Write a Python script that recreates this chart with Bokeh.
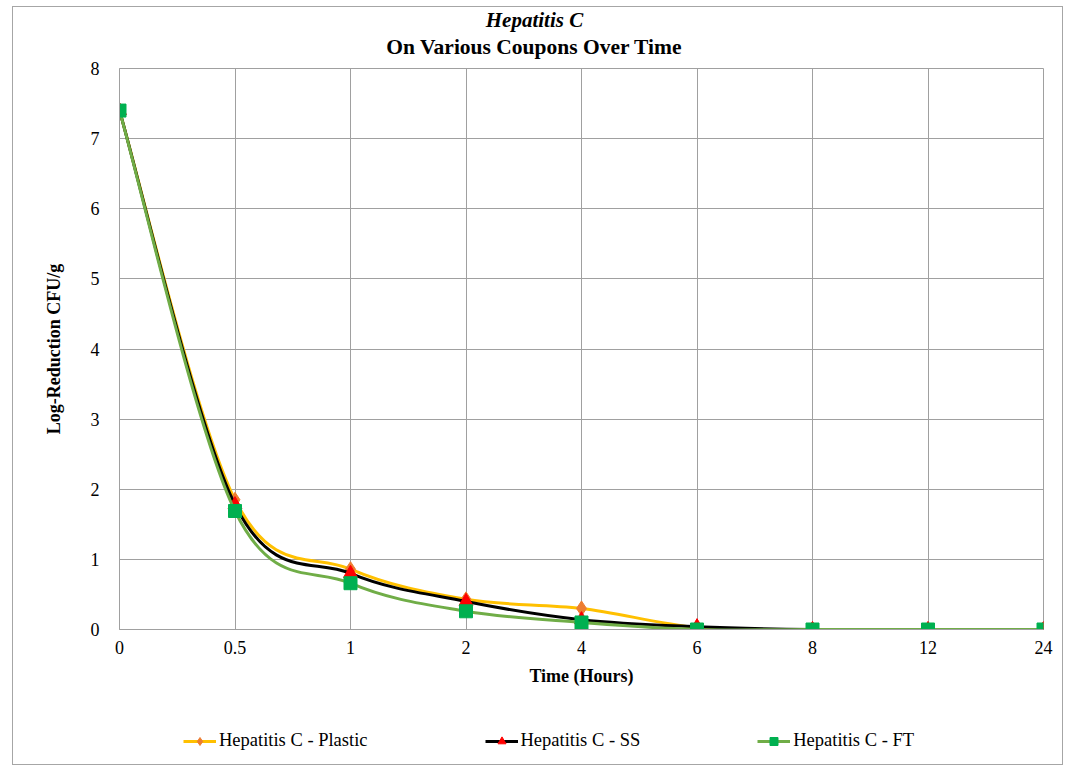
from bokeh.plotting import figure
from bokeh.models import Legend, LegendItem, FixedTicker, ColumnDataSource, Range1d
from bokeh.core.properties import value
from bokeh.layouts import column
from bokeh.embed import file_html
from bokeh.resources import INLINE

# ---- data ----
time_labels = ["0", "0.5", "1", "2", "4", "6", "8", "12", "24"]
plastic = [7.4, 1.85, 0.86, 0.43, 0.30, 0.03, 0.0, 0.0, 0.0]
ss = [7.4, 1.78, 0.80, 0.40, 0.14, 0.04, 0.0, 0.0, 0.0]
ft = [7.4, 1.69, 0.66, 0.26, 0.10, 0.0, 0.0, 0.0, 0.0]
series_names = ["Hepatitis C - Plastic", "Hepatitis C - SS", "Hepatitis C - FT"]
title_lines = ["Hepatitis C", "On Various Coupons Over Time"]

FONT = "Liberation Serif"
GRID = "#a0a0a0"

W = 1049
TOP_H, MAIN_H, BOT_H = 53, 640, 64
LB, RB, TB, BB = 106, 19, 8, 71
FW = W - LB - RB


def blank(height):
    f = figure(width=W, height=height, output_backend="svg", toolbar_location=None,
               x_range=Range1d(0, FW), y_range=Range1d(height, 0),
               x_axis_type=None, y_axis_type=None,
               min_border_left=LB, min_border_right=RB, min_border_top=0,
               min_border_bottom=0)
    f.outline_line_color = None
    f.xgrid.visible = False
    f.ygrid.visible = False
    return f


# ---- title figure ----
top = blank(TOP_H)
top.text(x=[415], y=[12], text=[title_lines[0]], text_align="center",
         text_baseline="middle", text_font=value(FONT), text_font_size="21px",
         text_font_style="bold italic", text_color="black")
top.text(x=[415], y=[39], text=[title_lines[1]], text_align="center",
         text_baseline="middle", text_font=value(FONT), text_font_size="21.5px",
         text_font_style="bold", text_color="black")

# ---- main figure ----
p = figure(width=W, height=MAIN_H, output_backend="svg", toolbar_location=None,
           x_range=(0, len(time_labels) - 1), y_range=(0, 8),
           min_border_left=LB, min_border_right=RB, min_border_top=TB,
           min_border_bottom=BB)
p.outline_line_color = GRID
p.background_fill_color = "white"

xs = list(range(len(time_labels)))


def smooth_segments(xv, yv):
    # Excel-style smoothed line: cubic Bezier control points (Catmull-Rom, 1/6)
    n = len(xv)
    seg = dict(x0=[], y0=[], x1=[], y1=[], cx0=[], cy0=[], cx1=[], cy1=[])
    for i in range(n - 1):
        xm, ym = (xv[i - 1], yv[i - 1]) if i > 0 else (xv[i], yv[i])
        xp, yp = (xv[i + 2], yv[i + 2]) if i + 2 < n else (xv[i + 1], yv[i + 1])
        seg["x0"].append(xv[i]); seg["y0"].append(yv[i])
        seg["x1"].append(xv[i + 1]); seg["y1"].append(yv[i + 1])
        seg["cx0"].append(xv[i] + (xv[i + 1] - xm) / 6.0)
        seg["cy0"].append(yv[i] + (yv[i + 1] - ym) / 6.0)
        seg["cx1"].append(xv[i + 1] - (xp - xv[i]) / 6.0)
        seg["cy1"].append(yv[i + 1] - (yp - yv[i]) / 6.0)
    return ColumnDataSource(seg)


styles = [
    (plastic, "#FFC000", "#ED7D31", "diamond", 15),
    (ss, "#000000", "#FF0000", "triangle", 14),
    (ft, "#70AD47", "#00B050", "square", 13),
]

for (vals, lc, mc, mk, ms) in styles:
    p.bezier(x0="x0", y0="y0", x1="x1", y1="y1", cx0="cx0", cy0="cy0",
             cx1="cx1", cy1="cy1", source=smooth_segments(xs, vals),
             line_color=lc, line_width=3)
    p.scatter(xs, vals, marker=mk, size=ms, fill_color=mc, line_color=mc)

p.xaxis.ticker = FixedTicker(ticks=xs)
p.xaxis.major_label_overrides = {i: t for i, t in enumerate(time_labels)}
p.yaxis.ticker = FixedTicker(ticks=list(range(0, 9)))
for ax in (p.xaxis[0], p.yaxis[0]):
    ax.axis_line_color = GRID
    ax.major_tick_line_color = None
    ax.minor_tick_line_color = None
    ax.major_label_text_font = FONT
    ax.major_label_text_font_size = "18px"
    ax.major_label_text_color = "black"
    ax.axis_label_text_font = FONT
    ax.axis_label_text_font_size = "18px"
    ax.axis_label_text_font_style = "bold"
    ax.axis_label_text_color = "black"
p.xaxis.axis_label = "Time (Hours)"
p.yaxis.axis_label = "Log-Reduction CFU/g"
p.xaxis.major_label_standoff = 5
p.yaxis.major_label_standoff = 14
p.xaxis.axis_label_standoff = 9
p.yaxis.axis_label_standoff = 24

p.xgrid.grid_line_color = GRID
p.ygrid.grid_line_color = GRID
p.xgrid.ticker = FixedTicker(ticks=xs)

# ---- legend figure ----
bot = blank(BOT_H)
items = []
for (vals, lc, mc, mk, ms), name in zip(styles, series_names):
    # legend proxies, placed outside the visible range
    lg = bot.line([-50, -40], [-50, -50], line_color=lc, line_width=3)
    sc = bot.scatter([-45], [-50], marker=mk, size=ms - 1, fill_color=mc,
                     line_color=mc)
    items.append(LegendItem(label=name, renderers=[lg, sc]))
legend = Legend(items=items, orientation="horizontal", location=(64, 13),
                spacing=117, glyph_width=33, glyph_height=20, label_standoff=3,
                padding=0, margin=0, border_line_color=None,
                background_fill_alpha=0,
                label_text_font=FONT, label_text_font_size="18.5px",
                label_text_color="black")
bot.add_layout(legend, "center")

layout = column(top, p, bot, spacing=0, margin=(6, 0, 0, 12),
                styles={"border": "1px solid #a6a6a6"})

open("out.html", "w").write(file_html(layout, INLINE))
